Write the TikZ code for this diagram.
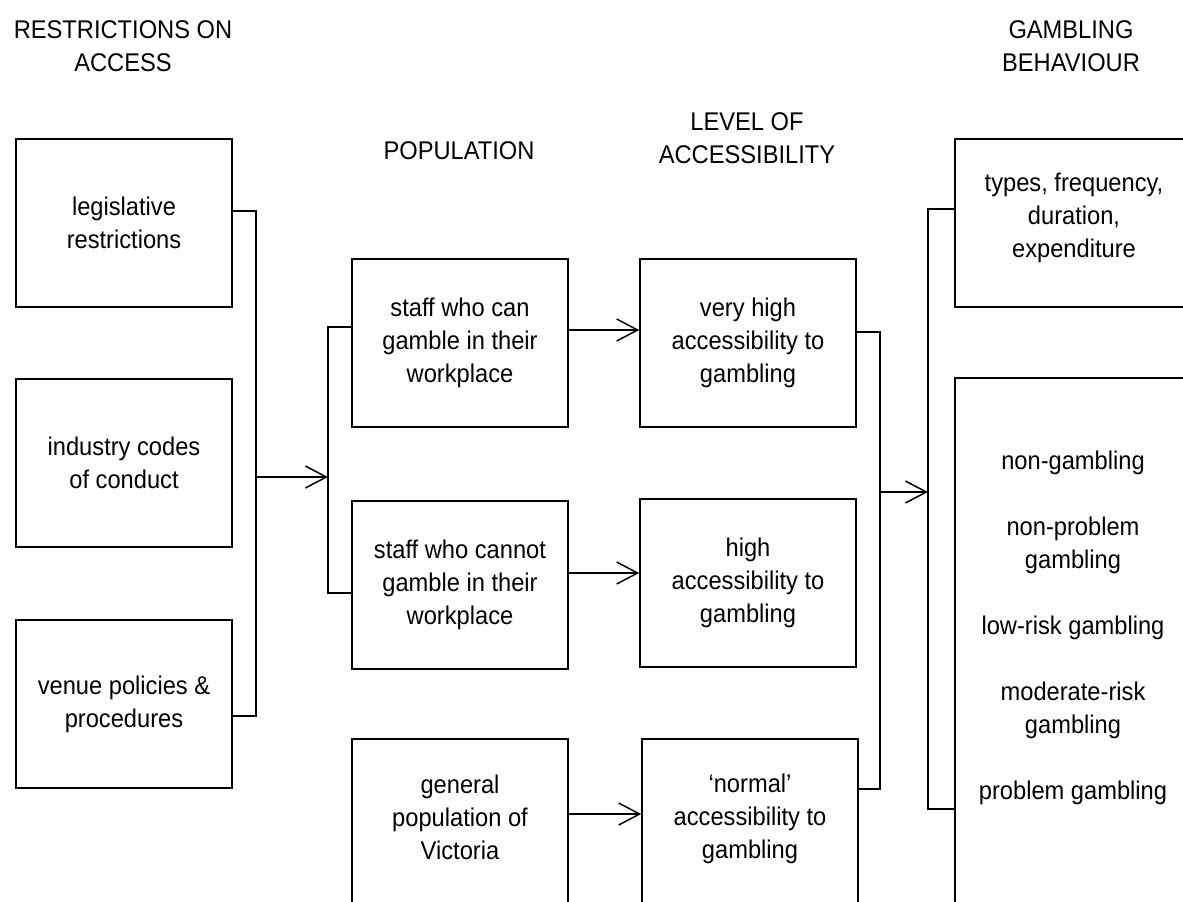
\documentclass[tikz,border=0pt]{standalone}
\usepackage{fontspec}
\setmainfont{Liberation Sans}[FakeStretch=0.925]
\usetikzlibrary{arrows.meta}
\begin{document}
\begin{tikzpicture}[x=0.5pt,y=-0.5pt,line width=0.75pt,
  box/.style={draw,minimum width=108pt,minimum height=84pt,inner sep=0pt,align=center,font=\fontsize{12.8pt}{16.5pt}\selectfont},
  lbl/.style={align=center,inner sep=0pt,font=\fontsize{12.8pt}{16.5pt}\selectfont},
  arr/.style={-{Straight Barb[length=10.5pt,width=11pt]}}]
\useasboundingbox (0,0) rectangle (1183,901);
\clip (0,0) rectangle (1183,901);

% headings
\node[lbl] (h1) at (123,46) {RESTRICTIONS ON\\ACCESS};
\node[lbl] (h2) at (459,151) {POPULATION};
\node[lbl] (h3) at (747,138) {LEVEL OF\\ACCESSIBILITY};
\node[lbl] (h4) at (1071,46) {GAMBLING\\BEHAVIOUR};

% restriction boxes
\node[box] (legis) at (124,223) {legislative\\restrictions};
\node[box] (industry) at (124,463) {industry codes\\of conduct};
\node[box] (venue) at (124,704) {venue policies \&\\procedures};

% population boxes
\node[box] (staffcan) at (460,343) {staff who can\\gamble in their\\workplace};
\node[box] (staffcannot) at (460,585) {staff who cannot\\gamble in their\\workplace};
\node[box,text depth=6pt] (genpop) at (460,823) {general\\population of\\Victoria};

% accessibility boxes
\node[box] (veryhigh) at (748,343) {very high\\accessibility to\\gambling};
\node[box] (high) at (748,583) {high\\accessibility to\\gambling};
\node[box,text depth=6.5pt] (normal) at (750,823) {‘normal’\\accessibility to\\gambling};

% behaviour boxes
\node[box,minimum width=119pt,text depth=7.5pt] (types) at (1074,223) {types, frequency,\\duration,\\expenditure};
\node[draw,minimum width=119pt,minimum height=270pt,inner sep=0pt] (big) at (1074,648) {};
\node[lbl] (bigtext) at (1073,628) {non-gambling\\[16.5pt]non-problem\\gambling\\[16.5pt]low-risk gambling\\[16.5pt]moderate-risk\\gambling\\[16.5pt]problem gambling};

% junction points
\coordinate (j1) at (256,477);
\coordinate (b1) at (328,477);
\coordinate (j2) at (880,492);
\coordinate (b2) at (928,492);

% connectors
\draw (legis.east |- 0,211) -| (j1) |- (venue.east |- 0,716);
\draw[arr] (j1) -- (b1);
\draw (staffcan.west |- 0,327) -| (b1) |- (staffcannot.west |- 0,593);
\draw[arr] (staffcan.east |- 0,330) -- (veryhigh.west |- 0,330);
\draw[arr] (staffcannot.east |- 0,573) -- (high.west |- 0,573);
\draw[arr] (genpop.east |- 0,814) -- (normal.west |- 0,814);
\draw (veryhigh.east |- 0,332) -| (j2) |- (normal.east |- 0,789);
\draw[arr] (j2) -- (b2);
\draw (types.west |- 0,209) -| (b2) |- (big.west |- 0,809);
\end{tikzpicture}
\end{document}
